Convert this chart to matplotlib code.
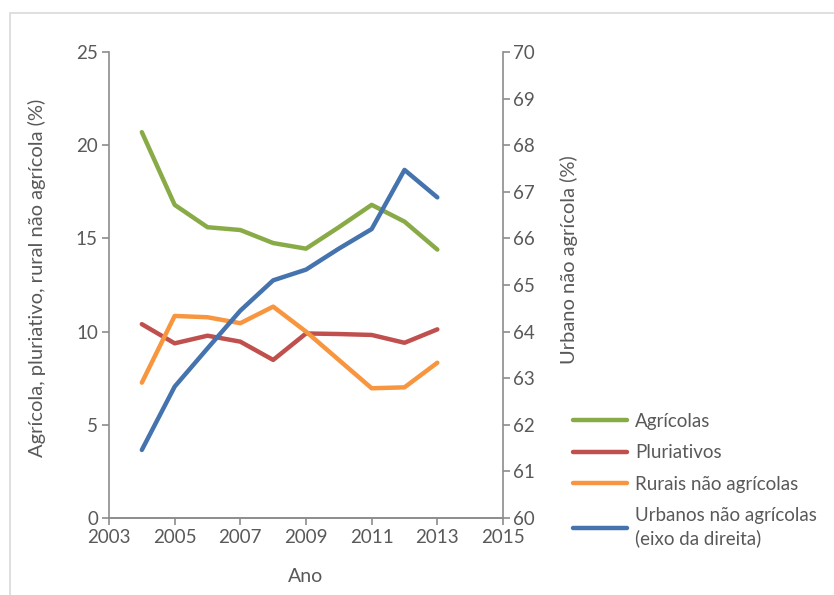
import numpy as np
import matplotlib.pyplot as plt
from matplotlib.patches import Rectangle

plt.rcParams['font.family'] = ['Lato', 'DejaVu Sans']

# dados
anos = [2004, 2005, 2006, 2007, 2008, 2009, 2010, 2011, 2012, 2013]
agricolas = [20.7, 16.8, 15.6, 15.45, 14.75, 14.45, 15.6, 16.8, 15.9, 14.4]
pluriativos = [10.4, 9.37, 9.78, 9.46, 8.48, 9.9, 9.87, 9.82, 9.4, 10.12]
rurais = [7.26, 10.84, 10.77, 10.45, 11.34, 10.0, 8.48, 6.96, 7.01, 8.33]
urbanos = [61.46, 62.82, 63.64, 64.45, 65.1, 65.33, 65.78, 66.2, 67.47, 66.88]

cinza = '#595959'
eixo = '#8c8c8c'
fs = 13.5

fig = plt.figure(figsize=(8.34, 5.95), dpi=100)

# moldura do gráfico
fig.patches.append(Rectangle((10 / 834, -0.05), 1.1, 1 - 13 / 595 + 0.05,
                             transform=fig.transFigure, fill=False,
                             edgecolor='#d9d9d9', linewidth=1.2))

ax = fig.add_axes([109 / 834, 1 - 518 / 595, 394 / 834, 466 / 595])
ax2 = ax.twinx()

lw = 3.2
l1, = ax.plot(anos, agricolas, color='#89AB47', lw=lw, solid_capstyle='round')
l2, = ax.plot(anos, pluriativos, color='#C0504D', lw=lw, solid_capstyle='round')
l3, = ax.plot(anos, rurais, color='#F7963F', lw=lw, solid_capstyle='round')
l4, = ax2.plot(anos, urbanos, color='#4573AE', lw=lw, solid_capstyle='round')

ax.set_xlim(2003, 2015)
ax.set_ylim(0, 25)
ax2.set_ylim(60, 70)
ax.set_xticks(range(2003, 2016, 2))
ax.set_yticks(range(0, 26, 5))
ax2.set_yticks(range(60, 71, 1))

for a in (ax, ax2):
    for s in a.spines.values():
        s.set_color(eixo)
        s.set_linewidth(1.2)
    a.spines['top'].set_visible(False)
    a.tick_params(colors=eixo, labelcolor=cinza, labelsize=fs, length=5,
                  width=1.2, direction='out')
ax.spines['right'].set_visible(False)
ax2.spines['left'].set_visible(False)
ax.tick_params(axis='y', pad=3)
ax.tick_params(axis='x', pad=3)
ax2.tick_params(axis='y', pad=2)

ax.set_xlabel('Ano', fontsize=fs + 0.5, color=cinza, labelpad=16)
ax.set_ylabel('Agrícola, pluriativo, rural não agrícola (%)', fontsize=fs + 1,
              color=cinza)
ax.yaxis.set_label_coords(-0.16, 0.515)
ax2.set_ylabel('Urbano não agrícola (%)', fontsize=fs + 1, color=cinza)
ax2.yaxis.set_label_coords(1.145, 0.555)

leg = fig.legend([l1, l2, l3, l4],
                 ['Agrícolas', 'Pluriativos', 'Rurais não agrícolas',
                  'Urbanos não agrícolas\n(eixo da direita)'],
                 loc='upper left', bbox_to_anchor=(565 / 834, 1 - 405 / 595),
                 frameon=False, fontsize=fs, labelcolor=cinza, handlelength=2.9,
                 handletextpad=0.45, labelspacing=0.78, borderaxespad=0)
for t in leg.get_texts():
    t.set_linespacing(1.35)

fig.savefig('out.png', dpi=100)
